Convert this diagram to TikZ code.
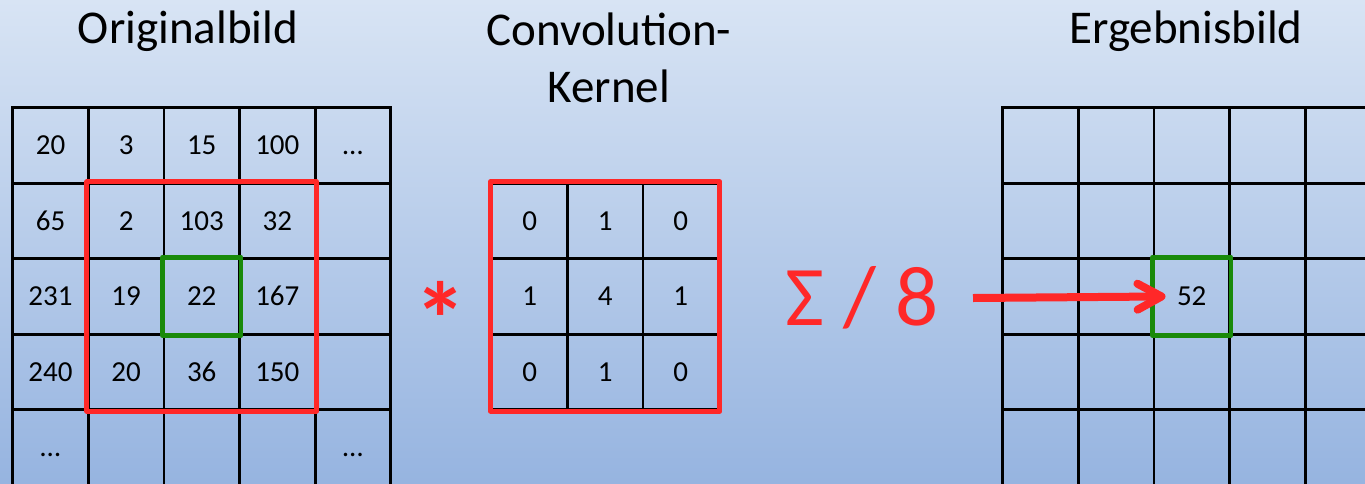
\documentclass[tikz,border=0pt]{standalone}
\usepackage{fontspec}
\setmainfont{Carlito}
\usetikzlibrary{arrows.meta}
\definecolor{bgtop}{RGB}{216,228,244}
\definecolor{bgbot}{RGB}{150,180,224}
\definecolor{hired}{RGB}{255,40,40}
\definecolor{higreen}{RGB}{26,138,10}
\begin{document}
\begin{tikzpicture}[x=1pt,y=-1pt,
  cell/.style={draw=black,line width=2.8pt,minimum width=75.6pt,minimum height=75.5pt,inner sep=0pt,text height=18.5pt,text depth=0pt,font=\fontsize{29}{34}\selectfont},
  kcell/.style={cell,minimum width=75.5pt},
  title/.style={font=\fontsize{47}{56}\selectfont,inner sep=0pt,anchor=base},
  redbox/.style={draw=hired,line width=5pt,line join=round},
  greenbox/.style={draw=higreen,line width=4.8pt,line join=round},
  redsym/.style={text=hired,inner sep=0pt},
  bigarrow/.style={draw=hired,line width=8pt,line cap=butt,-{Straight Barb[length=24pt,width=26pt,line cap=round,line join=round]}}]
\useasboundingbox (0,0) rectangle (1365,483);
\shade[top color=bgtop,bottom color=bgbot] (0,0) rectangle (1365,483);

% titles
\node[title] (t1) at (188,43) {Originalbild};
\node[title] (t2a) at (609,45) {Convolution-};
\node[title] (t2b) at (609,102) {Kernel};
\node[title] (t3) at (1186,43) {Ergebnisbild};

% original image grid
\foreach \t [count=\c from 0] in {20,3,15,100,…}
  \node[cell] (o-0-\c) at ({50.5+75.6*\c},145.45) {\t};
\foreach \t [count=\c from 0] in {65,2,103,32,{}}
  \node[cell] (o-1-\c) at ({50.5+75.6*\c},220.95) {\t};
\foreach \t [count=\c from 0] in {231,19,22,167,{}}
  \node[cell] (o-2-\c) at ({50.5+75.6*\c},296.45) {\t};
\foreach \t [count=\c from 0] in {240,20,36,150,{}}
  \node[cell] (o-3-\c) at ({50.5+75.6*\c},371.95) {\t};
\foreach \t [count=\c from 0] in {…,{},{},{},…}
  \node[cell] (o-4-\c) at ({50.5+75.6*\c},447.45) {\t};

\draw[redbox] (o-1-1.north west) rectangle (o-3-3.south east);
\draw[greenbox] (o-2-2.north west) rectangle (o-2-2.south east);

% kernel
\foreach \t [count=\c from 0] in {0,1,0}
  \node[kcell] (k-0-\c) at ({529.8+75.5*\c},220.95) {\t};
\foreach \t [count=\c from 0] in {1,4,1}
  \node[kcell] (k-1-\c) at ({529.8+75.5*\c},296.45) {\t};
\foreach \t [count=\c from 0] in {0,1,0}
  \node[kcell] (k-2-\c) at ({529.8+75.5*\c},371.95) {\t};
\draw[redbox] (k-0-0.north west) rectangle (k-2-2.south east);

% operators
\node[redsym,anchor=base,font=\fontsize{105}{115}\selectfont\bfseries] (ast) at (441,356) {*};
\node[redsym,font=\fontsize{85}{90}\selectfont] (sum) at (862,298) {Σ / 8};

% result grid
\foreach \r/\y in {0/145.45,1/220.95,2/296.45,3/371.95,4/447.45}
  \foreach \c in {0,...,4}
    \node[cell] (r-\r-\c) at ({1040.5+75.6*\c},\y) {};
\node[font=\fontsize{29}{34}\selectfont,inner sep=0pt,text height=18.5pt,text depth=0pt] (res) at (r-2-2.center) {52};
\draw[greenbox] (r-2-2.north west) rectangle (r-2-2.south east);

% arrow
\coordinate (astart) at (973,298);
\draw[bigarrow] (astart) -- ([xshift=13pt]r-2-2.west);
\end{tikzpicture}
\end{document}
